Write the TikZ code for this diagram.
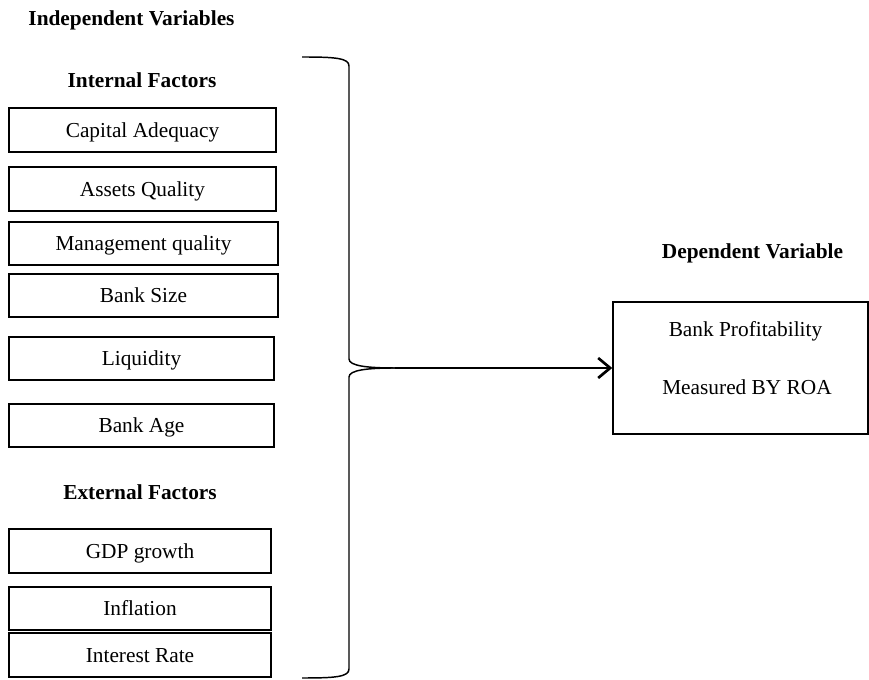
\documentclass[tikz,border=0pt]{standalone}
\usepackage{fontspec}
\setmainfont{Liberation Serif}
\usepackage{tikz}
\usetikzlibrary{positioning}
\usetikzlibrary{arrows.meta}
\tikzset{factor/.style={draw, line width=1.1pt, inner sep=0pt, text height=11pt, text depth=0pt, font=\fontsize{16}{19}\selectfont}}
\tikzset{heading/.style={inner sep=0pt, text height=11pt, text depth=0pt, font=\fontsize{16}{19}\selectfont\bfseries}}
\tikzset{plain/.style={inner sep=0pt, text height=11pt, text depth=0pt, font=\fontsize{16}{19}\selectfont}}

\begin{document}
\begin{tikzpicture}[x=0.75pt,y=-0.75pt]
\useasboundingbox (0,0) rectangle (869,680);
\node[heading] (indep) at (131.5,18) {Independent Variables};
\node[heading] (internal) at (142,80.5) {Internal Factors};
\node[factor, minimum width=200.25pt, minimum height=33pt] (cap) at (142.5,130) {Capital\ Adequacy};
\node[factor, minimum width=200.25pt, minimum height=33pt] (assets) at (142.5,189) {Assets Quality};
\node[factor, minimum width=201.75pt, minimum height=32.25pt] (mgmt) at (143.5,243.5) {Management quality};
\node[factor, minimum width=201.75pt, minimum height=32.25pt] (size) at (143.5,295.5) {Bank Size};
\node[factor, minimum width=198.75pt, minimum height=32.25pt] (liq) at (141.5,358.5) {Liquidity};
\node[factor, minimum width=198.75pt, minimum height=32.25pt] (age) at (141.5,425.5) {Bank Age};
\node[heading] (external) at (140,492.5) {External Factors};
\node[factor, minimum width=196.5pt, minimum height=33pt] (gdp) at (140,551) {GDP growth};
\node[factor, minimum width=196.5pt, minimum height=32.25pt] (infl) at (140,608.5) {Inflation};
\node[factor, minimum width=196.5pt, minimum height=33pt] (rate) at (140,655) {Interest Rate};
\node[heading] (depvar) at (752.5,251.5) {Dependent Variable};
\node[factor, minimum width=191.25pt, minimum height=99pt] (roa) at (740.5,368) {};
\node[plain] (prof) at (745.5,329.5) {Bank Profitability};
\node[plain] (meas) at (747,387.5) {Measured BY ROA};
% brace
\coordinate (tip) at (395,368);
\draw[line width=1.1pt] (302,57) .. controls (335,57) and (349,58) .. (349,66) -- (349,359)
  .. controls (349,366) and (368,368) .. (tip);
\draw[line width=1.1pt] (tip) .. controls (368,368) and (349,370) .. (349,377) -- (349,669)
  .. controls (349,677) and (335,678) .. (302,678);
\draw[line width=2pt, -{Straight Barb[length=9pt,width=15pt]}] (tip) -- (roa);
\end{tikzpicture}
\end{document}
